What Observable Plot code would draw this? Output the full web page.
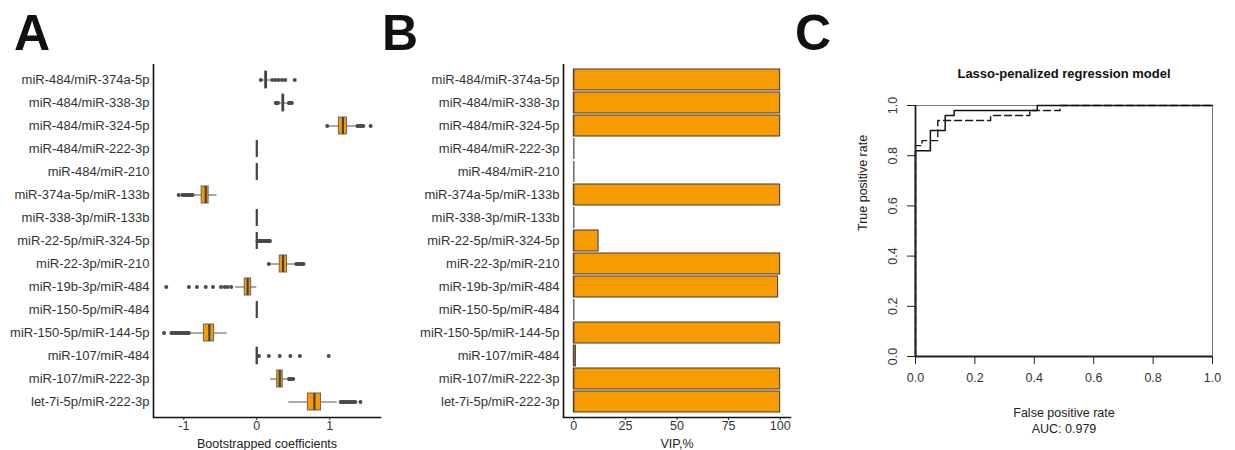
<!DOCTYPE html>
<html><head><meta charset="utf-8">
<script src="https://cdn.jsdelivr.net/npm/d3@7"></script>
<script src="https://cdn.jsdelivr.net/npm/@observablehq/plot@0.6"></script>
<style>
body{margin:0;background:#fff;font-family:"Liberation Sans",Arial,sans-serif;}
#wrap{position:relative;width:1235px;height:450px;overflow:hidden;background:#fff;}
.panel{position:absolute;top:0;}
.letter{position:absolute;font-size:50px;font-weight:bold;line-height:50px;color:#111;font-family:"Liberation Sans",Arial,sans-serif;}
</style></head><body>
<div id="wrap">
  <div id="pa" class="panel" style="left:0px"></div>
  <div id="pb" class="panel" style="left:380px"></div>
  <div id="pc" class="panel" style="left:790px"></div>
  <div class="letter" style="left:14px;top:8px">A</div>
  <div class="letter" style="left:382px;top:8px">B</div>
  <div class="letter" style="left:795px;top:8px">C</div>
</div>
<script>
// ---------- data ----------
const pairs = ["miR-484/miR-374a-5p","miR-484/miR-338-3p","miR-484/miR-324-5p","miR-484/miR-222-3p","miR-484/miR-210","miR-374a-5p/miR-133b","miR-338-3p/miR-133b","miR-22-5p/miR-324-5p","miR-22-3p/miR-210","miR-19b-3p/miR-484","miR-150-5p/miR-484","miR-150-5p/miR-144-5p","miR-107/miR-484","miR-107/miR-222-3p","let-7i-5p/miR-222-3p"];
// Panel A: bootstrapped coefficient box summaries
const boxQ1  = [0.115, 0.35, 1.125, 0, 0, -0.755, 0, 0, 0.315, -0.165, 0, -0.725, 0, 0.28, 0.70];
const boxMed = [0.125, 0.36, 1.18,  0, 0, -0.70,  0, 0, 0.36,  -0.125, 0, -0.65,  0, 0.315, 0.79];
const boxQ3  = [0.135, 0.37, 1.235, 0, 0, -0.66,  0, 0, 0.415, -0.077, 0, -0.585, 0.005, 0.355, 0.88];
const whiskLo = [0.07, 0.30, 0.99, 0, 0, -0.86, 0, 0, 0.18, -0.29, 0, -0.90, 0, 0.19, 0.44];
const whiskHi = [0.19, 0.42, 1.37, 0, 0, -0.545, 0, 0, 0.52, 0.0, 0, -0.405, 0.01, 0.42, 1.10];
const outliers = [
  [0.055, 0.21, 0.255, 0.30, 0.345, 0.39, 0.52],
  [0.26, 0.27, 0.28, 0.29, 0.44, 0.45, 0.46, 0.47, 0.48],
  [0.965, 1.38, 1.40, 1.42, 1.44, 1.46, 1.56],
  [],
  [],
  [-1.07, -1.02, -1.00, -0.98, -0.96, -0.94, -0.92, -0.90, -0.88],
  [],
  [0.01, 0.02, 0.03, 0.04, 0.05, 0.06, 0.07, 0.08, 0.09, 0.10, 0.11, 0.12, 0.13, 0.14, 0.15, 0.16, 0.17, 0.18],
  [0.165, 0.54, 0.56, 0.58, 0.60, 0.62, 0.64],
  [-1.24, -0.93, -0.82, -0.70, -0.60, -0.49, -0.44, -0.40, -0.35],
  [],
  [-1.27, -1.17, -1.15, -1.13, -1.11, -1.09, -1.07, -1.05, -1.03, -1.01, -0.99, -0.97, -0.95, -0.93],
  [0.03, 0.165, 0.315, 0.46, 0.59, 0.985],
  [0.44, 0.46, 0.48, 0.50],
  [1.15, 1.17, 1.19, 1.21, 1.23, 1.25, 1.27, 1.29, 1.31, 1.33, 1.35, 1.42]
];
const coefTicks = [-1, 0, 1];
const coefLabel = "Bootstrapped coefficients";
// Panel B: VIP, %
const vip = [100, 100, 100, 0, 0, 100, 0, 12, 100, 99, 0, 100, 1, 100, 100];
const vipTicks = [0, 25, 50, 75, 100];
const vipLabel = "VIP,%";
// Panel C: ROC curves (step corner points)
const rocSolidFpr = [0, 0, 0.05, 0.10, 0.13, 0.41, 1];
const rocSolidTpr = [0, 0.82, 0.90, 0.96, 0.98, 1.0, 1.0];
const rocDashFpr  = [0, 0, 0.022, 0.075, 0.253, 0.385, 0.487, 1];
const rocDashTpr  = [0, 0.84, 0.86, 0.94, 0.96, 0.98, 1.0, 1.0];
const rocTicks = [0, 0.2, 0.4, 0.6, 0.8, 1.0];
const rocTitle = "Lasso-penalized regression model";
const rocXLabel = "False positive rate";
const rocAuc = "AUC: 0.979";
const rocYLabel = "True positive rate";

// ---------- styles ----------
const ORANGE = "#f69c00";
const FONT = "'Liberation Sans', Arial, sans-serif";

// ---------- Panel A ----------
const boxRows = pairs.map((p, i) => ({pair: p, q1: boxQ1[i], med: boxMed[i], q3: boxQ3[i], lo: whiskLo[i], hi: whiskHi[i]}));
const outRows = pairs.flatMap((p, i) => outliers[i].map(v => ({pair: p, value: v})));
const xDomA = [-1.415, 1.695];
const plotA = Plot.plot({
  width: 385, height: 450,
  marginLeft: 153, marginRight: 5, marginTop: 64, marginBottom: 33,
  style: {fontFamily: FONT, fontSize: "13px", color: "#333", background: "transparent", overflow: "visible"},
  x: {domain: xDomA},
  y: {domain: pairs, paddingInner: 0.24, paddingOuter: 0.222},
  marks: [
    Plot.axisY({tickSize: 0, tickPadding: 4, label: null, fontSize: 13, color: "#333"}),
    Plot.axisX({ticks: coefTicks, tickSize: 3, tickPadding: 1, tickFormat: d => String(d), label: null, fontSize: 12.5, color: "#333", stroke: "#333"}),
    Plot.frame({anchor: "bottom", stroke: "#111", strokeWidth: 1.6}),
    Plot.ruleX([xDomA[0]], {stroke: "#111", strokeWidth: 1.6}),
    Plot.text([coefLabel], {frameAnchor: "bottom", dy: 26, lineAnchor: "middle", fontSize: 12.5, fill: "#222"}),
    Plot.ruleY(boxRows, {y: "pair", x1: "lo", x2: "hi", stroke: "#555", strokeWidth: 1}),
    Plot.barX(boxRows, {y: "pair", x1: "q1", x2: "q3", fill: ORANGE, stroke: "#666", strokeWidth: 1}),
    Plot.tickX(boxRows, {y: "pair", x: "med", stroke: "#444", strokeWidth: 2.2}),
    Plot.dot(outRows, {x: "value", y: "pair", r: 2, fill: "#4a4a4a", stroke: null})
  ]
});
document.getElementById("pa").appendChild(plotA);

// ---------- Panel B ----------
const vipRows = pairs.map((p, i) => ({pair: p, vip: vip[i]}));
const xDomB = [-5, 105];
const plotB = Plot.plot({
  width: 415, height: 450,
  marginLeft: 183, marginRight: 5, marginTop: 64, marginBottom: 33,
  style: {fontFamily: FONT, fontSize: "13px", color: "#333", background: "transparent", overflow: "visible"},
  x: {domain: xDomB},
  y: {domain: pairs, paddingInner: 0.085, paddingOuter: 0.145},
  marks: [
    Plot.axisY({tickSize: 0, tickPadding: 4, label: null, fontSize: 13, color: "#333"}),
    Plot.axisX({ticks: vipTicks, tickSize: 3, tickPadding: 1, tickFormat: d => String(d), label: null, fontSize: 12.5, color: "#333", stroke: "#333"}),
    Plot.frame({anchor: "bottom", stroke: "#111", strokeWidth: 1.6}),
    Plot.ruleX([xDomB[0]], {stroke: "#111", strokeWidth: 1.6}),
    Plot.text([vipLabel], {frameAnchor: "bottom", dy: 26, lineAnchor: "middle", fontSize: 12.5, fill: "#222"}),
    Plot.barX(vipRows, {y: "pair", x1: 0, x2: "vip", fill: ORANGE, stroke: "#3a3a3a", strokeWidth: 1}),
    Plot.tickX(vipRows, {y: "pair", x: 0, stroke: "#444", strokeWidth: 1.2})
  ]
});
document.getElementById("pb").appendChild(plotB);

// ---------- Panel C ----------
const solid = rocSolidFpr.map((f, i) => ({fpr: f, tpr: rocSolidTpr[i]}));
const dashed = rocDashFpr.map((f, i) => ({fpr: f, tpr: rocDashTpr[i]}));
const plotC = Plot.plot({
  width: 445, height: 450,
  marginLeft: 125, marginRight: 23, marginTop: 105, marginBottom: 94,
  style: {fontFamily: FONT, fontSize: "12px", color: "#333", background: "transparent", overflow: "visible"},
  x: {domain: [0, 1]},
  y: {domain: [0, 1]},
  marks: [
    Plot.frame({stroke: "#777", strokeWidth: 1}),
    Plot.axisX({ticks: rocTicks, tickSize: 8, tickPadding: 9, tickFormat: d => d.toFixed(1), label: null, fontSize: 12.5, color: "#333", stroke: "#222"}),
    Plot.axisY({ticks: rocTicks, tickSize: 8, tickPadding: 11, tickRotate: -90, tickFormat: d => d.toFixed(1), label: null, fontSize: 12.5, color: "#333", stroke: "#222"}),
    Plot.line(dashed, {x: "fpr", y: "tpr", curve: "step-after", stroke: "#1a1a1a", strokeWidth: 1.4, strokeDasharray: "7,4"}),
    Plot.line(solid, {x: "fpr", y: "tpr", curve: "step-after", stroke: "#111", strokeWidth: 1.5}),
    Plot.ruleX([0], {stroke: "#222", strokeWidth: 1.8}),
    Plot.ruleY([0], {stroke: "#222", strokeWidth: 1.8}),
    Plot.text([rocTitle], {frameAnchor: "top", dy: -32, lineAnchor: "middle", fontWeight: "bold", fontSize: 13, fill: "#111"}),
    Plot.text([rocXLabel + "\n" + rocAuc], {frameAnchor: "bottom", dy: 63, lineAnchor: "middle", lineHeight: 1.3, fontSize: 12.5, fill: "#222"}),
    Plot.text([rocYLabel], {frameAnchor: "left", dx: -53, rotate: -90, lineAnchor: "middle", fontSize: 12.5, fill: "#222"})
  ]
});
document.getElementById("pc").appendChild(plotC);
</script>
</body></html>
